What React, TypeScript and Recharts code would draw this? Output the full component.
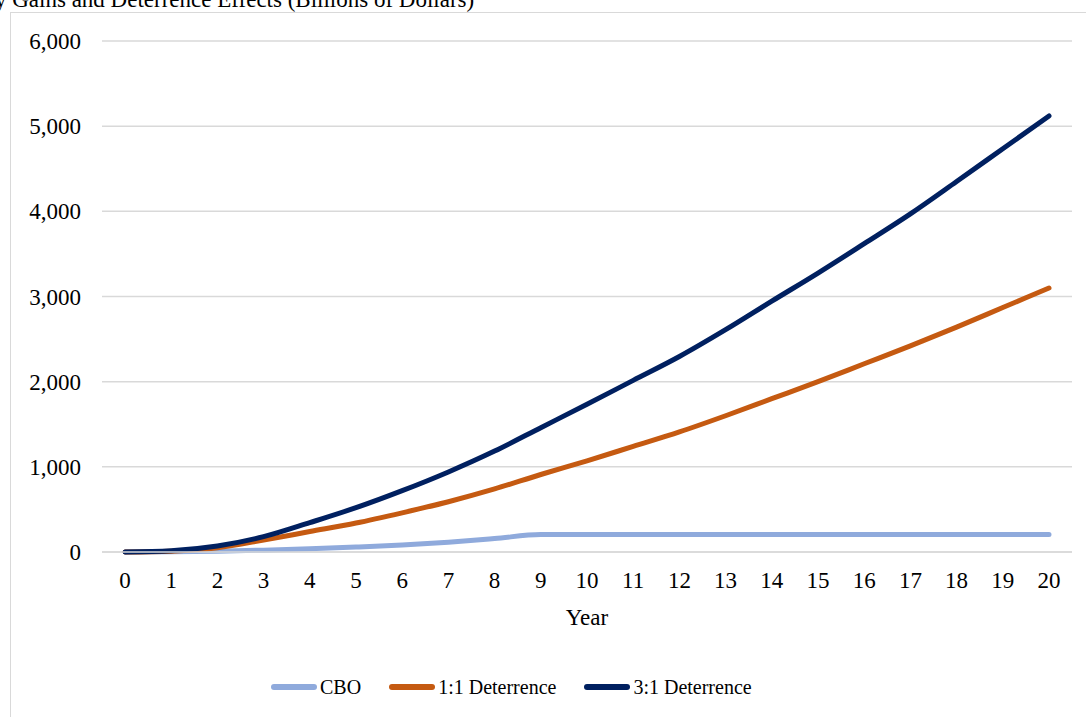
import { LineChart, Line, XAxis, YAxis, CartesianGrid, Legend } from 'recharts'

const years = [0, 1, 2, 3, 4, 5, 6, 7, 8, 9, 10, 11, 12, 13, 14, 15, 16, 17, 18, 19, 20]
const cbo = [0, 3, 10, 22, 38, 58, 82, 115, 158, 205, 205, 205, 205, 205, 205, 205, 205, 205, 205, 205, 205]
const deterrence1 = [0, 10, 50, 140, 240, 340, 460, 590, 740, 910, 1070, 1240, 1410, 1600, 1800, 2000, 2210, 2420, 2640, 2870, 3100]
const deterrence3 = [0, 15, 70, 180, 345, 520, 720, 940, 1185, 1460, 1735, 2015, 2295, 2610, 2945, 3275, 3620, 3970, 4350, 4735, 5120]
const yTicks = [0, 1000, 2000, 3000, 4000, 5000, 6000]

const SERIES = [
  { key: 'cbo', name: 'CBO', color: '#8faadc' },
  { key: 'd1', name: '1:1 Deterrence', color: '#c55a11' },
  { key: 'd3', name: '3:1 Deterrence', color: '#002060' },
]

const data = years.map((y, i) => ({
  year: y,
  cbo: cbo[i],
  d1: deterrence1[i],
  d3: deterrence3[i],
}))

const FONT = '"Liberation Serif", "Times New Roman", serif'

const LegendContent = () => (
  <div style={{ height: 30, display: 'flex', alignItems: 'center', marginLeft: 260, fontFamily: FONT, fontSize: 20, color: '#000' }}>
    {SERIES.map((s, i) => (
      <div key={s.key} style={{ display: 'flex', alignItems: 'center', marginRight: i < 2 ? 27 : 0 }}>
        <svg width={48} height={8} style={{ marginRight: 2 }}>
          <line x1={4} y1={4} x2={44} y2={4} stroke={s.color} strokeWidth={6} strokeLinecap="round" />
        </svg>
        <span>{s.name}</span>
      </div>
    ))}
  </div>
)

const App = () => {
  return (
    <div style={{ position: 'fixed', left: 0, top: 0, width: 1086, height: 717, overflow: 'hidden', background: '#fff' }}>
      <div style={{ position: 'absolute', left: -5, top: -13, fontFamily: FONT, fontSize: 23, lineHeight: '26px', whiteSpace: 'nowrap', color: '#000' }}>
        y Gains and Deterrence Effects (Billions of Dollars)
      </div>
      <div style={{ position: 'absolute', left: 10, top: 12, width: 1100, height: 730, border: '1.5px solid #d9d9d9', boxSizing: 'border-box' }} />
      <div style={{ position: 'absolute', left: 10, top: 12 }}>
        <LineChart width={1076} height={705} data={data} margin={{ top: 29, right: 14, bottom: 15, left: 0 }}>
          <CartesianGrid vertical={false} stroke="#d9d9d9" strokeWidth={1.5} />
          <XAxis
            dataKey="year"
            padding={{ left: 23, right: 23 }}
            height={120}
            tickLine={false}
            tickSize={0}
            tickMargin={20}
            axisLine={{ stroke: '#d9d9d9', strokeWidth: 1.5 }}
            tick={{ fill: '#000', fontSize: 23, fontFamily: FONT }}
            interval={0}
            label={{ value: 'Year', position: 'insideBottom', offset: 47, fill: '#000', fontSize: 23, fontFamily: FONT }}
          />
          <YAxis
            width={92}
            domain={[0, 6000]}
            ticks={yTicks}
            axisLine={false}
            tickLine={false}
            tickSize={0}
            tickMargin={21}
            tick={{ fill: '#000', fontSize: 23, fontFamily: FONT }}
            tickFormatter={(v: number) => v.toLocaleString('en-US')}
          />
          <Legend verticalAlign="bottom" height={30} content={<LegendContent />} />
          {SERIES.map((s) => (
            <Line
              key={s.key}
              type="monotone"
              dataKey={s.key}
              name={s.name}
              stroke={s.color}
              strokeWidth={5}
              strokeLinecap="round"
              dot={false}
              isAnimationActive={false}
            />
          ))}
        </LineChart>
      </div>
    </div>
  )
}

export default App
